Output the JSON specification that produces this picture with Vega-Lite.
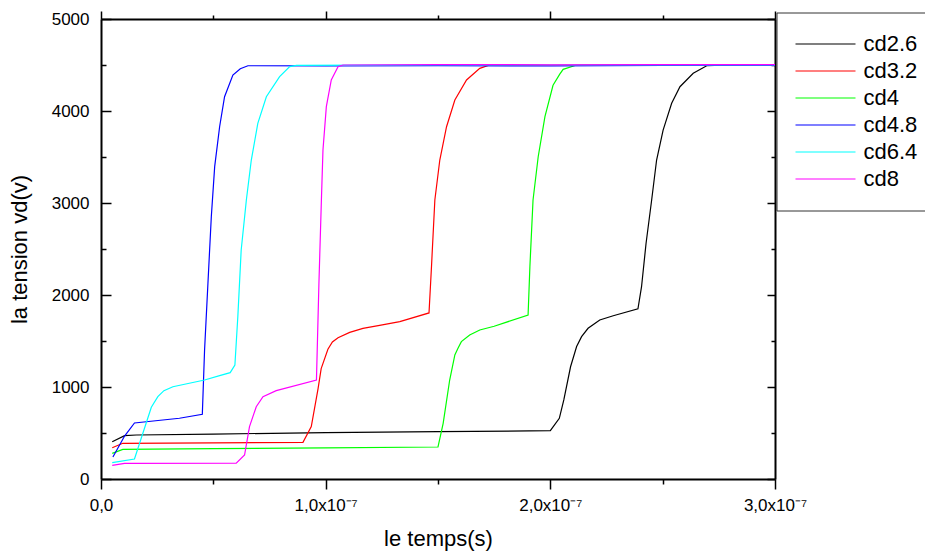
{
  "$schema": "https://vega.github.io/schema/vega-lite/v6.json",
  "width": 674,
  "height": 460,
  "autosize": {"type": "none"},
  "padding": {"left": 101, "top": 19, "right": 150, "bottom": 74},
  "background": "white",
  "config": {
    "view": {"stroke": null},
    "font": "Liberation Sans",
    "axis": {
      "labelFont": "Liberation Sans",
      "titleFont": "Liberation Sans",
      "labelColor": "black",
      "titleColor": "black",
      "domainColor": "black",
      "tickColor": "black",
      "grid": false,
      "titleFontWeight": "normal",
      "domainWidth": 2,
      "tickWidth": 1.5
    }
  },
  "datasets": {
    "curves": [
      {"s": "cd2.6", "t": 5e-9, "v": 405}, {"s": "cd2.6", "t": 10.5e-9, "v": 471}, {"s": "cd2.6", "t": 15.7e-9, "v": 478}, {"s": "cd2.6", "t": 50e-9, "v": 488}, {"s": "cd2.6", "t": 100e-9, "v": 505}, {"s": "cd2.6", "t": 150e-9, "v": 515}, {"s": "cd2.6", "t": 200e-9, "v": 525}, {"s": "cd2.6", "t": 204e-9, "v": 660}, {"s": "cd2.6", "t": 206e-9, "v": 860}, {"s": "cd2.6", "t": 209e-9, "v": 1220}, {"s": "cd2.6", "t": 211.7e-9, "v": 1440}, {"s": "cd2.6", "t": 213.9e-9, "v": 1547}, {"s": "cd2.6", "t": 216.8e-9, "v": 1638}, {"s": "cd2.6", "t": 222e-9, "v": 1728}, {"s": "cd2.6", "t": 228e-9, "v": 1775}, {"s": "cd2.6", "t": 239e-9, "v": 1850}, {"s": "cd2.6", "t": 240.6e-9, "v": 2090}, {"s": "cd2.6", "t": 242.6e-9, "v": 2560}, {"s": "cd2.6", "t": 245.1e-9, "v": 3033}, {"s": "cd2.6", "t": 247.3e-9, "v": 3467}, {"s": "cd2.6", "t": 250.2e-9, "v": 3793}, {"s": "cd2.6", "t": 254e-9, "v": 4084}, {"s": "cd2.6", "t": 257.7e-9, "v": 4264}, {"s": "cd2.6", "t": 263.6e-9, "v": 4410}, {"s": "cd2.6", "t": 269.6e-9, "v": 4492}, {"s": "cd2.6", "t": 280e-9, "v": 4500}, {"s": "cd2.6", "t": 290e-9, "v": 4497}, {"s": "cd2.6", "t": 300e-9, "v": 4500},

      {"s": "cd3.2", "t": 5e-9, "v": 340}, {"s": "cd3.2", "t": 9.7e-9, "v": 388}, {"s": "cd3.2", "t": 50e-9, "v": 392}, {"s": "cd3.2", "t": 89.9e-9, "v": 399}, {"s": "cd3.2", "t": 93.6e-9, "v": 569}, {"s": "cd3.2", "t": 96.6e-9, "v": 980}, {"s": "cd3.2", "t": 98e-9, "v": 1200}, {"s": "cd3.2", "t": 101e-9, "v": 1410}, {"s": "cd3.2", "t": 103e-9, "v": 1490}, {"s": "cd3.2", "t": 105.5e-9, "v": 1535}, {"s": "cd3.2", "t": 110.7e-9, "v": 1594}, {"s": "cd3.2", "t": 116.6e-9, "v": 1638}, {"s": "cd3.2", "t": 124e-9, "v": 1670}, {"s": "cd3.2", "t": 133e-9, "v": 1710}, {"s": "cd3.2", "t": 146e-9, "v": 1805}, {"s": "cd3.2", "t": 147.1e-9, "v": 2308}, {"s": "cd3.2", "t": 148.6e-9, "v": 3033}, {"s": "cd3.2", "t": 150.8e-9, "v": 3467}, {"s": "cd3.2", "t": 153.8e-9, "v": 3829}, {"s": "cd3.2", "t": 157.5e-9, "v": 4120}, {"s": "cd3.2", "t": 162.7e-9, "v": 4337}, {"s": "cd3.2", "t": 168.6e-9, "v": 4464}, {"s": "cd3.2", "t": 173e-9, "v": 4500}, {"s": "cd3.2", "t": 200e-9, "v": 4497}, {"s": "cd3.2", "t": 250e-9, "v": 4503}, {"s": "cd3.2", "t": 300e-9, "v": 4500},

      {"s": "cd4", "t": 5e-9, "v": 279}, {"s": "cd4", "t": 9.7e-9, "v": 322}, {"s": "cd4", "t": 50e-9, "v": 330}, {"s": "cd4", "t": 100e-9, "v": 338}, {"s": "cd4", "t": 150e-9, "v": 348}, {"s": "cd4", "t": 152.3e-9, "v": 605}, {"s": "cd4", "t": 155.2e-9, "v": 1076}, {"s": "cd4", "t": 157.5e-9, "v": 1348}, {"s": "cd4", "t": 158.9e-9, "v": 1420}, {"s": "cd4", "t": 160.4e-9, "v": 1493}, {"s": "cd4", "t": 164.1e-9, "v": 1565}, {"s": "cd4", "t": 168.6e-9, "v": 1620}, {"s": "cd4", "t": 175e-9, "v": 1660}, {"s": "cd4", "t": 190.1e-9, "v": 1783}, {"s": "cd4", "t": 190.9e-9, "v": 2308}, {"s": "cd4", "t": 192.3e-9, "v": 3033}, {"s": "cd4", "t": 194.6e-9, "v": 3503}, {"s": "cd4", "t": 197.6e-9, "v": 3938}, {"s": "cd4", "t": 201.2e-9, "v": 4280}, {"s": "cd4", "t": 204.2e-9, "v": 4400}, {"s": "cd4", "t": 205.7e-9, "v": 4453}, {"s": "cd4", "t": 211.7e-9, "v": 4500}, {"s": "cd4", "t": 250e-9, "v": 4497}, {"s": "cd4", "t": 300e-9, "v": 4500},

      {"s": "cd4.8", "t": 5.3e-9, "v": 239}, {"s": "cd4.8", "t": 10.5e-9, "v": 467}, {"s": "cd4.8", "t": 14.9e-9, "v": 609}, {"s": "cd4.8", "t": 34.9e-9, "v": 660}, {"s": "cd4.8", "t": 45.1e-9, "v": 703}, {"s": "cd4.8", "t": 46.1e-9, "v": 1402}, {"s": "cd4.8", "t": 47.6e-9, "v": 2127}, {"s": "cd4.8", "t": 49.1e-9, "v": 2851}, {"s": "cd4.8", "t": 50.6e-9, "v": 3395}, {"s": "cd4.8", "t": 52.8e-9, "v": 3829}, {"s": "cd4.8", "t": 55e-9, "v": 4155}, {"s": "cd4.8", "t": 58.7e-9, "v": 4391}, {"s": "cd4.8", "t": 62e-9, "v": 4460}, {"s": "cd4.8", "t": 65.4e-9, "v": 4492}, {"s": "cd4.8", "t": 100e-9, "v": 4490}, {"s": "cd4.8", "t": 150e-9, "v": 4494}, {"s": "cd4.8", "t": 200e-9, "v": 4490}, {"s": "cd4.8", "t": 250e-9, "v": 4495}, {"s": "cd4.8", "t": 300e-9, "v": 4495},

      {"s": "cd6.4", "t": 5e-9, "v": 177}, {"s": "cd6.4", "t": 14.9e-9, "v": 217}, {"s": "cd6.4", "t": 22.4e-9, "v": 780}, {"s": "cd6.4", "t": 25.3e-9, "v": 895}, {"s": "cd6.4", "t": 28e-9, "v": 960}, {"s": "cd6.4", "t": 32e-9, "v": 1003}, {"s": "cd6.4", "t": 46.1e-9, "v": 1076}, {"s": "cd6.4", "t": 52.8e-9, "v": 1123}, {"s": "cd6.4", "t": 57.5e-9, "v": 1156}, {"s": "cd6.4", "t": 59.6e-9, "v": 1239}, {"s": "cd6.4", "t": 60.9e-9, "v": 1764}, {"s": "cd6.4", "t": 62.4e-9, "v": 2489}, {"s": "cd6.4", "t": 64.7e-9, "v": 3033}, {"s": "cd6.4", "t": 66.9e-9, "v": 3467}, {"s": "cd6.4", "t": 69.8e-9, "v": 3866}, {"s": "cd6.4", "t": 73.6e-9, "v": 4155}, {"s": "cd6.4", "t": 79.5e-9, "v": 4373}, {"s": "cd6.4", "t": 84e-9, "v": 4482}, {"s": "cd6.4", "t": 87e-9, "v": 4495}, {"s": "cd6.4", "t": 150e-9, "v": 4502}, {"s": "cd6.4", "t": 200e-9, "v": 4500}, {"s": "cd6.4", "t": 300e-9, "v": 4502},

      {"s": "cd8", "t": 5e-9, "v": 149}, {"s": "cd8", "t": 10.5e-9, "v": 170}, {"s": "cd8", "t": 60.2e-9, "v": 172}, {"s": "cd8", "t": 63.9e-9, "v": 261}, {"s": "cd8", "t": 66.1e-9, "v": 569}, {"s": "cd8", "t": 69.1e-9, "v": 786}, {"s": "cd8", "t": 72.1e-9, "v": 895}, {"s": "cd8", "t": 78e-9, "v": 960}, {"s": "cd8", "t": 95.9e-9, "v": 1076}, {"s": "cd8", "t": 97e-9, "v": 2127}, {"s": "cd8", "t": 98.1e-9, "v": 3033}, {"s": "cd8", "t": 98.8e-9, "v": 3576}, {"s": "cd8", "t": 100.3e-9, "v": 4047}, {"s": "cd8", "t": 102.5e-9, "v": 4337}, {"s": "cd8", "t": 105.5e-9, "v": 4482}, {"s": "cd8", "t": 107.7e-9, "v": 4500}, {"s": "cd8", "t": 150e-9, "v": 4505}, {"s": "cd8", "t": 200e-9, "v": 4502}, {"s": "cd8", "t": 250e-9, "v": 4505}, {"s": "cd8", "t": 300e-9, "v": 4503}
    ]
  },
  "layer": [
    {
      "data": {"name": "curves"},
      "mark": {"type": "line", "strokeWidth": 1.2, "clip": true},
      "encoding": {
        "x": {
          "field": "t", "type": "quantitative",
          "scale": {"domain": [0, 3e-7], "nice": false, "zero": false},
          "axis": {
            "orient": "bottom", "values": [0, 1e-7, 2e-7, 3e-7],
            "labelExpr": "datum.value == 0 ? '0,0' : replace(format(datum.value * 1e7, '.1f'), '.', ',') + 'x10⁻⁷'",
            "labelFontSize": 17, "labelPadding": 8, "tickSize": 10,
            "labelFlush": false, "labelOverlap": false,
            "title": "le temps(s)", "titleFontSize": 22, "titlePadding": 15
          }
        },
        "y": {
          "field": "v", "type": "quantitative",
          "scale": {"domain": [0, 5000], "nice": false},
          "axis": {
            "orient": "left", "values": [0, 1000, 2000, 3000, 4000, 5000], "format": "d",
            "ticks": false, "labelFontSize": 17, "labelPadding": 12,
            "title": "la tension vd(v)", "titleFontSize": 22, "titlePadding": 20
          }
        },
        "color": {
          "field": "s", "type": "nominal",
          "scale": {
            "domain": ["cd2.6", "cd3.2", "cd4", "cd4.8", "cd6.4", "cd8"],
            "range": ["#000000", "#ff0000", "#00ff00", "#0000ff", "#00ffff", "#ff00ff"]
          },
          "legend": {
            "orient": "none", "legendX": 675.5, "legendY": -6.5, "title": null,
            "symbolType": "stroke", "symbolSize": 3600, "symbolStrokeWidth": 1.2,
            "clipHeight": 27, "rowPadding": 0, "labelOffset": 7,
            "labelFontSize": 22, "labelFont": "Liberation Sans", "labelColor": "black",
            "padding": 18, "strokeColor": "#333333", "fillColor": "white", "cornerRadius": 0
          }
        }
      }
    },
    {
      "data": {"values": []},
      "mark": {"type": "point", "opacity": 0},
      "encoding": {
        "x": {"field": "t", "type": "quantitative", "axis": {"orient": "bottom", "values": [5e-8, 1.5e-7, 2.5e-7], "labels": false, "domain": false, "tickSize": 5, "title": null}},
        "y": {"field": "v", "type": "quantitative", "axis": {"orient": "left", "values": [0, 1000, 2000, 3000, 4000, 5000], "labels": false, "domain": false, "tickSize": -10, "title": null}}
      }
    },
    {
      "data": {"values": []},
      "mark": {"type": "point", "opacity": 0},
      "encoding": {
        "x": {"field": "t", "type": "quantitative", "axis": {"orient": "top", "values": [0, 1e-7, 2e-7, 3e-7], "labels": false, "domain": true, "tickSize": 8, "title": null}},
        "y": {"field": "v", "type": "quantitative", "axis": {"orient": "left", "values": [500, 1500, 2500, 3500, 4500], "labels": false, "domain": false, "tickSize": -5, "title": null}}
      }
    },
    {
      "data": {"values": []},
      "mark": {"type": "point", "opacity": 0},
      "encoding": {
        "x": {"field": "t", "type": "quantitative", "axis": {"orient": "top", "values": [5e-8, 1.5e-7, 2.5e-7], "labels": false, "domain": false, "tickSize": 4, "title": null}},
        "y": {"field": "v", "type": "quantitative", "axis": {"orient": "right", "values": [0, 1000, 2000, 3000, 4000, 5000], "labels": false, "domain": true, "tickSize": -8, "title": null}}
      }
    },
    {
      "data": {"values": []},
      "mark": {"type": "point", "opacity": 0},
      "encoding": {
        "x": {"field": "t", "type": "quantitative", "axis": null},
        "y": {"field": "v", "type": "quantitative", "axis": {"orient": "right", "values": [500, 1500, 2500, 3500, 4500], "labels": false, "domain": false, "tickSize": -4, "title": null}}
      }
    }
  ],
  "resolve": {"axis": {"x": "independent", "y": "independent"}}
}
